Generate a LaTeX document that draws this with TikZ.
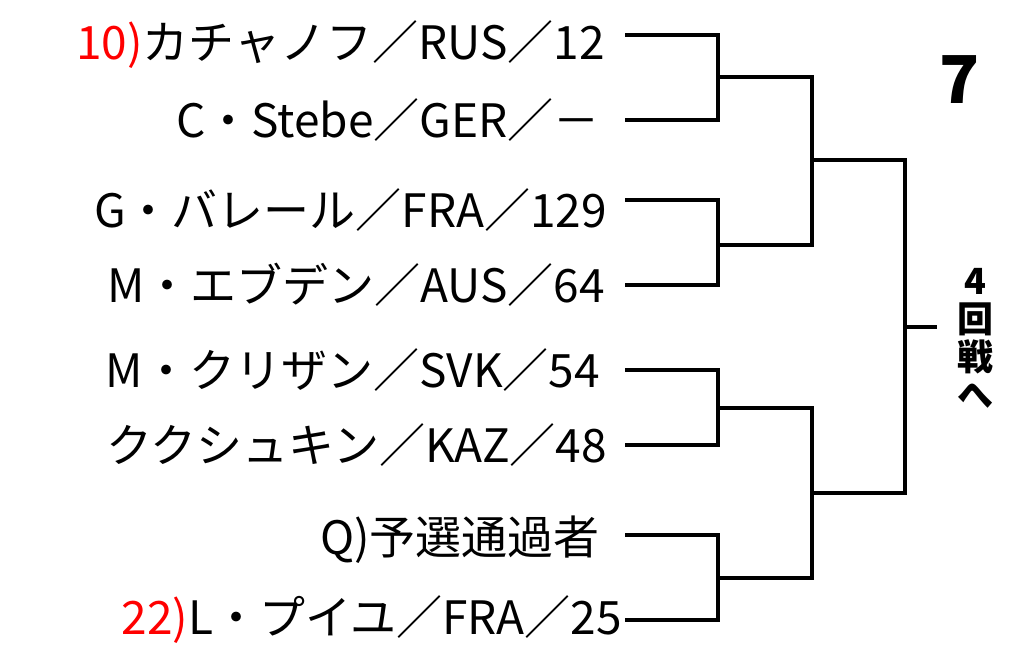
\documentclass[tikz,border=0pt]{standalone}
\usepackage{fontspec}
\setmainfont{Noto Sans CJK JP}
\tikzset{
  player/.style={anchor=east, inner sep=0pt, font=\fontsize{46}{48}\selectfont},
  seed/.style={red},
  bracket/.style={line width=3.5pt, line cap=rect}
}
\begin{document}
\begin{tikzpicture}[x=1pt,y=-1pt]
		\useasboundingbox (0,0) rectangle (1024,668);
		% players
		\node[player] (p1) at (605,45) {\textcolor{red}{10)}カチャノフ／RUS／12};
		\node[player] (p2) at (600,120) {C・Stebe／GER／－};
		\node[player] (p3) at (607,210) {G・バレール／FRA／129};
		\node[player] (p4) at (605,285) {M・エブデン／AUS／64};
		\node[player] (p5) at (600,370) {M・クリザン／SVK／54};
		\node[player] (p6) at (607,445) {ククシュキン／KAZ／48};
		\node[player] (p7) at (600,540) {Q)予選通過者};
		\node[player] (p8) at (622,620) {\textcolor{red}{22)}L・プイユ／FRA／25};
		% bracket points
		\coordinate (a1) at (627,35);  \coordinate (a2) at (627,120);
		\coordinate (a3) at (627,200); \coordinate (a4) at (627,285);
		\coordinate (a5) at (627,370); \coordinate (a6) at (627,445);
		\coordinate (a7) at (627,535); \coordinate (a8) at (627,620);
		\draw[bracket] (a1) -| (718,120) -- (a2);
		\draw[bracket] (a3) -| (718,285) -- (a4);
		\draw[bracket] (a5) -| (718,445) -- (a6);
		\draw[bracket] (a7) -| (718,620) -- (a8);
		\draw[bracket] (718,77) -| (812,245) -- (718,245);
		\draw[bracket] (718,408) -| (812,578) -- (718,578);
		\draw[bracket] (812,160) -| (905,493) -- (812,493);
		\coordinate (out) at (935,327);
		\draw[bracket] (905,327) -- (out);
		\node[font=\fontsize{66}{66}\selectfont\bfseries] (round) at (960,80) {7};
		\node[font=\fontsize{36}{42}\selectfont\bfseries, align=center] (next) at (975,338) {4\\[-4pt]回\\[-4pt]戦\\[-4pt]へ};
\end{tikzpicture}
\end{document}
